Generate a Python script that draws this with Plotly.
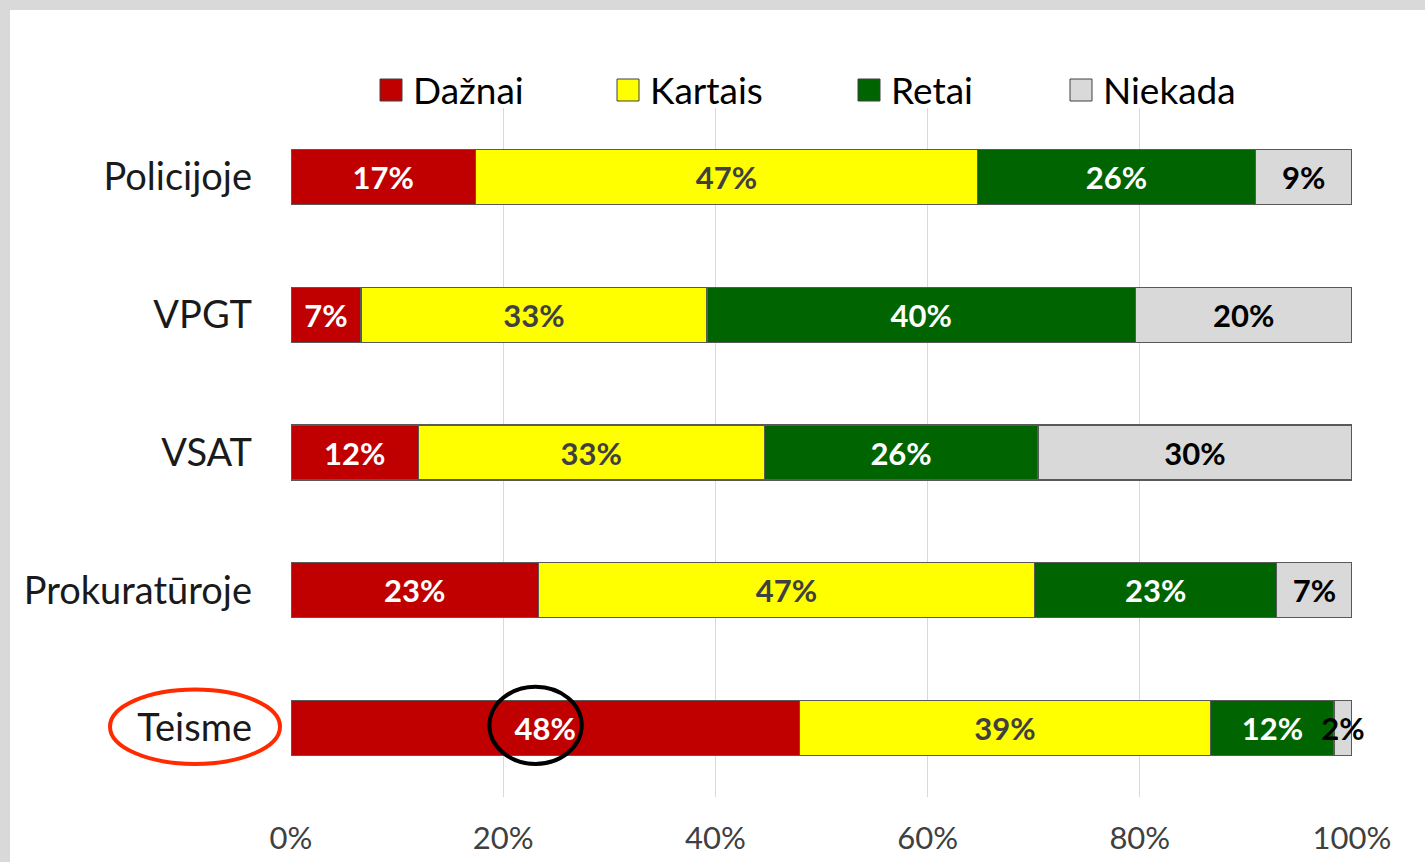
"""Stacked horizontal bars: how often respondents meet the issue, by institution."""

import plotly.graph_objects as go

# ── Data ─────────────────────────────────────────────────────────────────────
INSTITUTIONS = ["Policijoje", "VPGT", "VSAT", "Prokuratūroje", "Teisme"]
SERIES = ["Dažnai", "Kartais", "Retai", "Niekada"]
DAZNAI = [17.4, 6.6, 12.0, 23.3, 47.9]
KARTAIS = [47.3, 32.6, 32.6, 46.8, 38.8]
RETAI = [26.2, 40.4, 25.8, 22.8, 11.6]
NIEKADA = [9.1, 20.4, 29.6, 7.1, 1.7]
X_TICKS = [0, 20, 40, 60, 80, 100]

# ── Styles ───────────────────────────────────────────────────────────────────
FONT = "Lato, 'Open Sans', sans-serif"
FILL = {"Dažnai": "#c00000", "Kartais": "#ffff00", "Retai": "#006400", "Niekada": "#d9d9d9"}
LABEL = {"Dažnai": "white", "Kartais": "#404040", "Retai": "white", "Niekada": "black"}
LEGEND_LEFT = [380, 617, 858, 1070]  # px, left edge of each swatch

W, H = 1425, 862
ML, MR, MT, MB = 291, 73, 108, 65
PW, PH = W - ML - MR, H - MT - MB


def px_x(px):
    return (px - ML) / PW


def px_y(py):
    return (H - MB - py) / PH


fig = go.Figure()

for name, vals in zip(SERIES, [DAZNAI, KARTAIS, RETAI, NIEKADA]):
    fig.add_trace(go.Bar(
        y=INSTITUTIONS, x=vals, name=name, orientation="h",
        marker=dict(color=FILL[name], line=dict(color="#595959", width=1.2)),
        texttemplate="%{x:.0f}%", textposition="inside", insidetextanchor="middle",
        textangle=0, constraintext="none", cliponaxis=False,
        textfont=dict(family=FONT, size=31, color=LABEL[name], weight="bold"),
        showlegend=False, hoverinfo="skip",
    ))

# slide frame: grey strip top / left, white chart area
fig.add_shape(type="rect", xref="paper", yref="paper", layer="below",
              x0=px_x(10), x1=px_x(W + 20), y0=px_y(H + 20), y1=px_y(10),
              fillcolor="white", line_width=0)

# legend row (larger swatches than plotly's built-in legend allows)
for name, left in zip(SERIES, LEGEND_LEFT):
    fig.add_shape(type="rect", xref="paper", yref="paper",
                  x0=px_x(left), x1=px_x(left + 22), y0=px_y(101), y1=px_y(79),
                  fillcolor=FILL[name], line=dict(color="#404040", width=1))
    fig.add_annotation(xref="paper", yref="paper", x=px_x(left + 31), y=px_y(89),
                       xanchor="left", yanchor="middle", showarrow=False, text=name,
                       font=dict(family=FONT, size=37, color="black"))

# highlight marks
fig.add_shape(type="circle", xref="paper", yref="y",
              x0=px_x(110), x1=px_x(280), y0=3.72, y1=4.26,
              line=dict(color="#ff2a00", width=4))
fig.add_shape(type="circle", xref="x", yref="y",
              x0=18.7, x1=27.4, y0=3.70, y1=4.26,
              line=dict(color="black", width=4))

fig.update_layout(
    width=W, height=H, autosize=False,
    margin=dict(l=ML, r=MR, t=MT, b=MB, autoexpand=False),
    barmode="stack", bargap=0.6,
    paper_bgcolor="#d9d9d9", plot_bgcolor="white",
    font=dict(family=FONT, color="#1a1a1a"),
    showlegend=False,
)
fig.update_xaxes(range=[0, 100], tickvals=X_TICKS, ticktext=[f"{v}%" for v in X_TICKS],
                 showgrid=True, gridcolor="#d9d9d9", gridwidth=1, zeroline=False,
                 showline=False, ticks="", ticklabelstandoff=20, automargin=False,
                 tickfont=dict(size=31, color="#404040"))
fig.update_yaxes(autorange="reversed", showgrid=False, showline=False, ticks="",
                 ticklabelstandoff=38, automargin=False,
                 tickfont=dict(size=38, color="#1a1a1a"))

fig.write_html("out.html", config={"displayModeBar": False},
               post_script="document.body.style.margin='0';")
